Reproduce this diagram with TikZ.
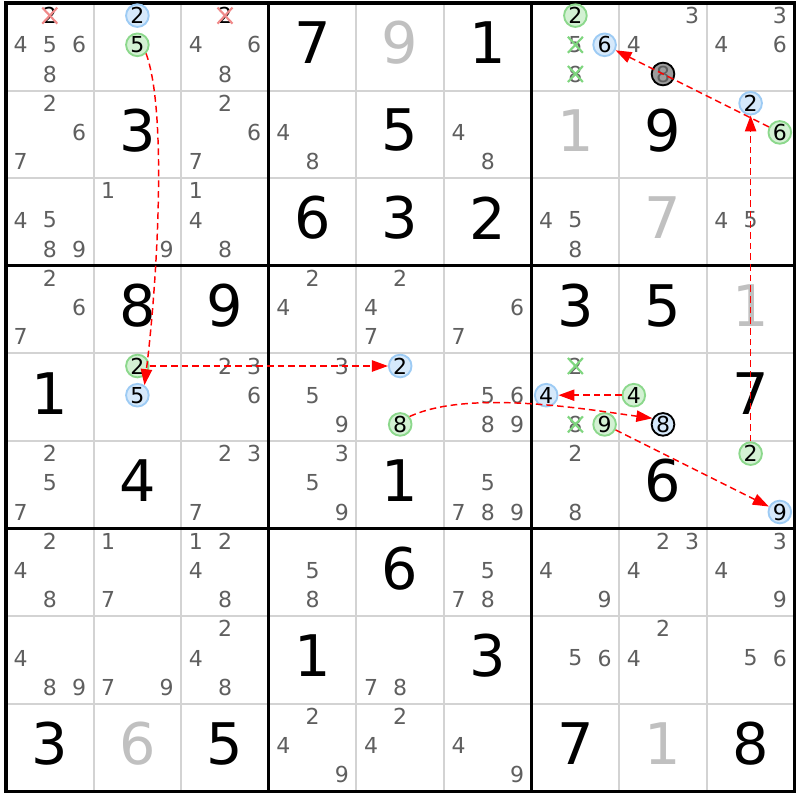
\documentclass[tikz,border=0pt]{standalone}
\usepackage{fontspec}
\setmainfont{DejaVu Sans}
\usetikzlibrary{arrows.meta}
\definecolor{candgray}{HTML}{5F5F5F}
\definecolor{givgray}{HTML}{C0C0C0}
\definecolor{gridgray}{HTML}{D3D3D3}
\definecolor{bluefill}{HTML}{D6E9FB}
\definecolor{bluebd}{HTML}{9DCBF4}
\definecolor{greenfill}{HTML}{D3F1D3}
\definecolor{greenbd}{HTML}{8CD88C}
\definecolor{grayfill}{HTML}{9C9C9C}
\definecolor{xpink}{HTML}{F08A8A}
\definecolor{xgreen}{HTML}{7FD67F}
\newcommand\putcand[4]{%
  \pgfmathsetmacro\candx{6+(#2-1)*87.6+(mod(#3-1,3)+0.5)*29.2}%
  \pgfmathsetmacro\candy{3+(#1-1)*87.6+(int((#3-1)/3)+0.5)*29.2-2}%
  \node[#4] (n-#1-#2-#3) at (\candx,\candy) {#3};%
}
\newcommand\crossout[2]{%
  \draw[#2, line width=1.6pt] ([shift={(-7.5,-8)}]#1.center) -- ([shift={(7.5,8)}]#1.center)
    ([shift={(-7.5,8)}]#1.center) -- ([shift={(7.5,-8)}]#1.center);%
}
\begin{document}
\begin{tikzpicture}[x=0.75pt,y=-0.75pt,
  cand/.style={font=\fontsize{16.5}{18}\selectfont, text=candgray, inner sep=0pt},
  given/.style={font=\fontsize{43}{48}\selectfont, inner sep=0pt},
  circ/.style={cand, circle, minimum size=17pt, inner sep=0pt, line width=1.4pt, text=black},
  blueC/.style={circ, draw=bluebd, fill=bluefill},
  greenC/.style={circ, draw=greenbd, fill=greenfill},
  blackC/.style={circ, draw=black, fill=bluefill},
  grayC/.style={circ, draw=black, fill=grayfill, text=candgray},
  thinline/.style={draw=gridgray, line width=1.5pt},
  thickline/.style={draw=black, line width=2.4pt, line cap=rect},
  arr/.style={draw=red, line width=1.1pt, dash pattern=on 5pt off 3pt, -{Triangle[length=12pt,width=8.5pt]}}]
\useasboundingbox (0,0) rectangle (800,800);
\fill[white] (0,0) rectangle (800,800);
% grid
\foreach \i in {1,2,4,5,7,8} {
  \draw[thinline] ({6+\i*87.6},3) -- ({6+\i*87.6},791.4);
  \draw[thinline] (6,{3+\i*87.6}) -- (794.4,{3+\i*87.6});
}
\foreach \i in {0,3,6,9} {
  \draw[thickline] ({6+\i*87.6},3) -- ({6+\i*87.6},791.4);
  \draw[thickline] (6,{3+\i*87.6}) -- (794.4,{3+\i*87.6});
}
% givens
\foreach \r/\c/\d/\col in {1/4/7/black, 1/5/9/givgray, 1/6/1/black,
  2/2/3/black, 2/5/5/black, 2/7/1/givgray, 2/8/9/black,
  3/4/6/black, 3/5/3/black, 3/6/2/black, 3/8/7/givgray,
  4/2/8/black, 4/3/9/black, 4/7/3/black, 4/8/5/black, 4/9/1/givgray,
  5/1/1/black, 5/9/7/black,
  6/2/4/black, 6/5/1/black, 6/8/6/black,
  7/5/6/black, 8/4/1/black, 8/6/3/black,
  9/1/3/black, 9/2/6/givgray, 9/3/5/black, 9/7/7/black, 9/8/1/givgray, 9/9/8/black} {
  \node[given, text=\col] (g-\r-\c) at ({6+(\c-0.5)*87.6},{3+(\r-0.5)*87.6-4}) {\d};
}
% plain candidates
\foreach \r/\c/\ds in {1/1/{4,5,6,8}, 1/3/{4,6,8}, 1/8/{3,4}, 1/9/{3,4,6},
  2/1/{2,6,7}, 2/3/{2,6,7}, 2/4/{4,8}, 2/6/{4,8},
  3/1/{4,5,8,9}, 3/2/{1,9}, 3/3/{1,4,8}, 3/7/{4,5,8}, 3/9/{4,5},
  4/1/{2,6,7}, 4/4/{2,4}, 4/5/{2,4,7}, 4/6/{6,7},
  5/3/{2,3,6}, 5/4/{3,5,9}, 5/6/{5,6,8,9},
  6/1/{2,5,7}, 6/3/{2,3,7}, 6/4/{3,5,9}, 6/6/{5,7,8,9}, 6/7/{2,8},
  7/1/{2,4,8}, 7/2/{1,7}, 7/3/{1,2,4,8}, 7/4/{5,8}, 7/6/{5,7,8}, 7/7/{4,9}, 7/8/{2,3,4}, 7/9/{3,4,9},
  8/1/{4,8,9}, 8/2/{7,9}, 8/3/{2,4,8}, 8/5/{7,8}, 8/7/{5,6}, 8/8/{2,4}, 8/9/{5,6},
  9/4/{2,4,9}, 9/5/{2,4}, 9/6/{4,9}} {
  \foreach \d in \ds {\putcand{\r}{\c}{\d}{cand}}
}
% marked candidates
\putcand{1}{1}{2}{cand,text=black}
\putcand{1}{3}{2}{cand,text=black}
\putcand{1}{2}{2}{blueC}
\putcand{1}{2}{5}{greenC}
\putcand{1}{7}{2}{greenC}
\putcand{1}{7}{5}{cand}
\putcand{1}{7}{8}{cand}
\putcand{1}{7}{6}{blueC}
\putcand{1}{8}{8}{grayC}
\putcand{2}{9}{2}{blueC}
\putcand{2}{9}{6}{greenC}
\putcand{5}{2}{2}{greenC}
\putcand{5}{2}{5}{blueC}
\putcand{5}{5}{2}{blueC}
\putcand{5}{5}{8}{greenC}
\putcand{5}{7}{2}{cand}
\putcand{5}{7}{4}{blueC}
\putcand{5}{7}{8}{cand}
\putcand{5}{7}{9}{greenC}
\putcand{5}{8}{4}{greenC}
\putcand{5}{8}{8}{blackC}
\putcand{6}{9}{2}{greenC}
\putcand{6}{9}{9}{blueC}
\crossout{n-1-1-2}{xpink}
\crossout{n-1-3-2}{xpink}
\crossout{n-1-7-5}{xgreen}
\crossout{n-1-7-8}{xgreen}
\crossout{n-5-7-2}{xgreen}
\crossout{n-5-7-8}{xgreen}
% links
\draw[arr] (n-1-2-5.-45) .. controls +(22,60) and +(12,-95) .. (n-5-2-5.55);
\draw[arr] (n-5-2-2) -- (n-5-5-2);
\draw[arr] (n-5-5-8.40) .. controls +(60,-28) and +(-60,-8) .. (n-5-8-8.150);
\draw[arr] (n-5-8-4) -- (n-5-7-4);
\draw[arr] (n-5-7-9) -- (n-6-9-9);
\draw[arr] (n-6-9-2) -- (n-2-9-2);
\draw[arr] (n-2-9-6) -- (n-1-7-6);
\end{tikzpicture}
\end{document}
